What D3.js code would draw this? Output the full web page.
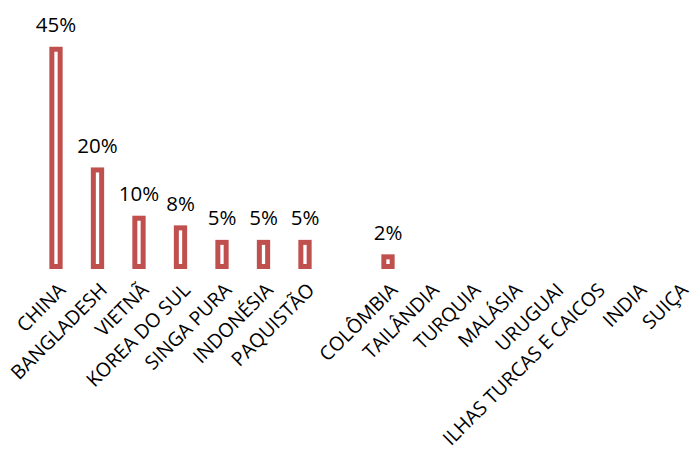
<!DOCTYPE html>
<html>
<head>
<meta charset="utf-8">
<script src="https://cdn.jsdelivr.net/npm/d3@7"></script>
<style>
  html, body { margin: 0; padding: 0; background: #fff; }
  svg { display: block; }
</style>
</head>
<body>
<svg id="chart" width="694" height="459"></svg>
<script>
const categories = ["CHINA", "BANGLADESH", "VIETNÃ", "KOREA DO SUL", "SINGA PURA", "INDONÉSIA", "PAQUISTÃO", "",
  "COLÔMBIA", "TAILÂNDIA", "TURQUIA", "MALÁSIA", "URUGUAI", "ILHAS TURCAS E CAICOS", "INDIA", "SUIÇA"];
const values = [45, 20, 10, 8, 5, 5, 5, 0, 2, 0, 0, 0, 0, 0, 0, 0];

const svg = d3.select("#chart");
const keys = categories.map((c, i) => i);

const x = d3.scaleBand().domain(keys).range([35.25, 699.25]).padding(0);
const y = d3.scaleLinear().domain([0, 50]).range([266.5, 25.1]);

const color = "#C0504D";
const font = "'Open Sans', sans-serif";
const barW = x.bandwidth() * 0.2;

const data = keys.map(i => ({ i, c: categories[i], v: values[i] }));

svg.append("g").selectAll("rect")
  .data(data.filter(d => d.v > 0))
  .join("rect")
  .attr("x", d => x(d.i) + x.bandwidth() / 2 - barW / 2)
  .attr("y", d => y(d.v))
  .attr("width", barW)
  .attr("height", d => y(0) - y(d.v))
  .attr("fill", "#fff")
  .attr("stroke", color)
  .attr("stroke-width", 5);

svg.append("g").selectAll("text")
  .data(data.filter(d => d.v > 0))
  .join("text")
  .attr("x", d => x(d.i) + x.bandwidth() / 2)
  .attr("y", d => y(d.v) - 17)
  .attr("text-anchor", "middle")
  .attr("font-family", font)
  .attr("font-size", 20.5)
  .attr("fill", "#000")
  .text(d => d3.format(".0f")(d.v) + "%");

const xAxis = d3.axisBottom(x).tickSize(0).tickFormat(i => categories[i]);
const gx = svg.append("g").attr("transform", `translate(0,${y(0) + 20})`).call(xAxis);
gx.select(".domain").remove();
gx.selectAll("text")
  .attr("font-family", font)
  .attr("font-size", 19.5)
  .attr("fill", "#000")
  .attr("text-anchor", "end")
  .attr("dy", "0.35em")
  .attr("y", 0)
  .attr("transform", "translate(6,0) rotate(-45)");
</script>
</body>
</html>
